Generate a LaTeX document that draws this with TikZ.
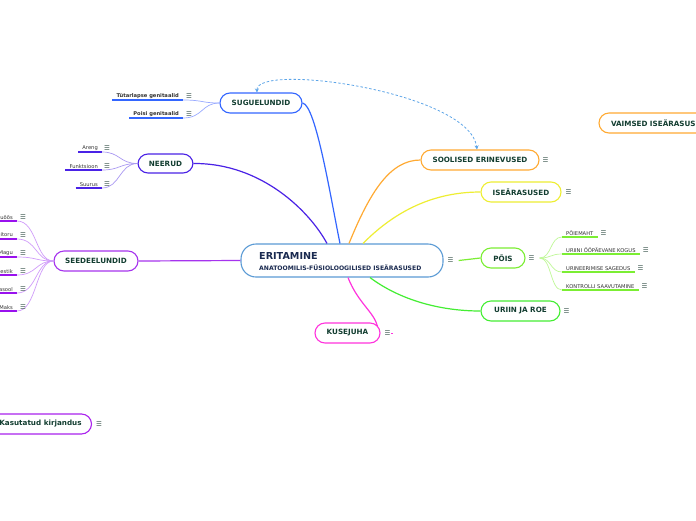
\documentclass[tikz,border=0pt]{standalone}
\usepackage{fontspec}
\setmainfont{DejaVu Sans}
\usetikzlibrary{arrows.meta}
\definecolor{txtgreen}{HTML}{123D30}
\definecolor{txtnavy}{HTML}{1A2A50}
\definecolor{itemgray}{HTML}{333333}
\definecolor{icongray}{HTML}{3F5A52}
\definecolor{cerit}{HTML}{5B9BD5}
\definecolor{csug}{HTML}{3366FF}
\definecolor{csugl}{HTML}{99AAFF}
\definecolor{cneer}{HTML}{4A22E6}
\definecolor{cneerl}{HTML}{AA99F2}
\definecolor{cseed}{HTML}{A633EE}
\definecolor{cseedu}{HTML}{9911EE}
\definecolor{cseedl}{HTML}{D09CFA}
\definecolor{csool}{HTML}{FFAA33}
\definecolor{cyel}{HTML}{EEEE33}
\definecolor{cpois}{HTML}{7BEE33}
\definecolor{cpoisl}{HTML}{C0F898}
\definecolor{curi}{HTML}{44EE33}
\definecolor{ckuse}{HTML}{FF33DD}
\definecolor{ckirj}{HTML}{AA22EE}
\definecolor{crel}{HTML}{5DA5E8}
\tikzset{
  topic/.style={draw, line width=1.1pt, rounded corners=10pt, fill=white,
    minimum height=20pt, inner sep=0pt, text=txtgreen,
    font=\fontsize{7.2}{8}\selectfont\bfseries},
  item/.style={inner xsep=4pt, inner ysep=1.6pt, anchor=south east,
    text=itemgray, font=\fontsize{5.2}{6}\selectfont},
  bitem/.style={item, font=\fontsize{5.2}{6}\selectfont\bfseries},
  icon/.style={inner sep=0pt, text=icongray, font=\fontsize{6.5}{7}\selectfont},
  centtext/.style={inner sep=0pt, anchor=west, text=txtnavy},
  ul/.style={line width=1.7pt},
  twig/.style={line width=0.7pt},
  mainline/.style={line width=1.2pt},
}
\begin{document}
\begin{tikzpicture}[x=1pt,y=-1pt]
\clip (0,0) rectangle (696,520);
\fill[white] (0,0) rectangle (696,520);

% ---------- topics ----------
\node[topic, draw=cerit, rounded corners=15pt, minimum width=202pt, minimum height=33pt] (erit) at (342,260.5) {};
\node[centtext, font=\fontsize{9.6}{10}\selectfont\bfseries] (erit1) at (259,256) {ERITAMINE};
\node[centtext, font=\fontsize{6.1}{7}\selectfont\bfseries] (erit2) at (259,268) {ANATOOMILIS-FÜSIOLOOGILISED ISEÄRASUSED};
\node[topic, draw=csug, minimum width=82pt] (sug) at (261,103) {SUGUELUNDID};
\node[topic, draw=cneer, minimum width=55pt, minimum height=19pt] (neer) at (165.5,163.5) {NEERUD};
\node[topic, draw=cseed, minimum width=84pt] (seed) at (96,261) {SEEDEELUNDID};
\node[topic, draw=csool, minimum width=118pt] (sool) at (480,160) {SOOLISED ERINEVUSED};
\node[topic, draw=cyel, minimum width=80pt] (ise) at (521,192) {ISEÄRASUSED};
\node[topic, draw=cpois, minimum width=44pt] (pois) at (503,258) {PÕIS};
\node[topic, draw=curi, minimum width=79pt] (uri) at (520.5,311) {URIIN JA ROE};
\node[topic, draw=ckuse, minimum width=65pt] (kuse) at (347.5,333) {KUSEJUHA};
\node[topic, draw=ckirj, minimum width=102pt] (kirj) at (40.5,424) {Kasutatud kirjandus};
\node[topic, draw=csool, minimum width=124pt, text width=100pt, align=left] (vaim) at (661,123) {VAIMSED ISEÄRASUSED};

% ---------- icons on topics ----------
\node[icon] (eriti) at ([xshift=7pt]erit.east) {☰};
\node[icon] (sooli) at ([xshift=6pt]sool.east) {☰};
\node[icon] (isei) at ([xshift=7pt]ise.east) {☰};
\node[icon] (poisi) at ([xshift=6pt]pois.east) {☰};
\node[icon] (urii) at ([xshift=6pt]uri.east) {☰};
\node[icon] (kusei) at ([xshift=7pt]kuse.east) {☰};
\node[icon] (kirji) at ([xshift=7pt]kirj.east) {☰};
\coordinate (kuseend) at ([xshift=12pt]kuse.east);
\draw[ckuse, line width=0.6pt] ([xshift=10.5pt]kuse.east) -- (kuseend);

% ---------- main connectors ----------
\draw[mainline, csug] (sug.east) .. controls (316,105) and (331,200) .. ([xshift=-2pt]erit.north);
\draw[mainline, cneer] (neer.east) .. controls (262,163) and (310,212) .. ([xshift=-15pt]erit.north);
\draw[mainline, cseed] (erit.west) -- (seed.east);
\draw[mainline, csool] ([xshift=7pt]erit.north) .. controls (370,192) and (390,160) .. (sool.west);
\draw[mainline, cyel] ([xshift=21pt]erit.north) .. controls (400,206) and (440,192) .. (ise.west);
\draw[mainline, cpois] ([xshift=5pt]eriti.east) -- (pois.west);
\draw[mainline, curi] ([xshift=28pt]erit.south) .. controls (400,300) and (440,311) .. (uri.west);
\draw[mainline, ckuse] ([xshift=6pt]erit.south) .. controls (358,303) and (374,312) .. ([xshift=-3pt,yshift=-4pt]kuse.north east);

% ---------- relation ----------
\draw[crel, line width=0.8pt, dash pattern=on 2.5pt off 2pt,
  {Stealth[length=4pt,width=4pt]}-{Stealth[length=4pt,width=4pt]}]
  ([xshift=-4pt]sug.north) .. controls (256,62) and (470,92) .. ([xshift=-3pt]sool.north);

% ---------- SUGUELUNDID items ----------
\node[bitem] (s1) at (183,100) {Tütarlapse genitaalid};
\node[bitem] (s2) at (183,118) {Poisi genitaalid};
\foreach \n in {s1,s2}{
  \draw[ul, csug] (\n.south west) -- (\n.south east);
  \draw[twig, csugl] (\n.south east) .. controls +(20,0) and +(-18,0) .. (sug.west);
  \node[icon] (\n i) at ([xshift=6pt]\n.east) {☰};
}

% ---------- NEERUD items ----------
\node[item] (n1) at (102,152) {Areng};
\node[item] (n2) at (102,170) {Funktsioon};
\node[item] (n3) at (102,188) {Suurus};
\foreach \n in {n1,n2,n3}{
  \draw[ul, cneer] (\n.south west) -- (\n.south east);
  \draw[twig, cneerl] (\n.south east) .. controls +(18,0) and +(-18,0) .. (neer.west);
  \node[icon] (\n i) at ([xshift=5pt]\n.east) {☰};
}

% ---------- SEEDEELUNDID items ----------
\node[item] (d1) at (17,221) {Suuõõs};
\node[item] (d2) at (17,239) {Söögitoru};
\node[item] (d3) at (17,257) {Magu};
\node[item] (d4) at (17,275) {Soolestik};
\node[item] (d5) at (17,293) {Pärasool};
\node[item] (d6) at (17,311) {Maks};
\foreach \n in {d1,d2,d3,d4,d5,d6}{
  \draw[ul, cseedu] (\n.south west) -- (\n.south east);
  \draw[twig, cseedl] (\n.south east) .. controls +(20,0) and +(-18,0) .. (seed.west);
  \node[icon] (\n i) at ([xshift=6pt]\n.east) {☰};
}

% ---------- PÕIS items ----------
\coordinate (poisout) at ([xshift=5pt]poisi.east);
\node[item, anchor=south west] (p1) at (562,237) {PÕIEMAHT};
\node[item, anchor=south west] (p2) at (562,254) {URIINI ÖÖPÄEVANE KOGUS};
\node[item, anchor=south west] (p3) at (562,272) {URINEERIMISE SAGEDUS};
\node[item, anchor=south west] (p4) at (562,290) {KONTROLLI SAAVUTAMINE};
\foreach \n in {p1,p2,p3,p4}{
  \draw[ul, cpois] (\n.south west) -- (\n.south east);
  \draw[twig, cpoisl] (poisout) .. controls +(12,0) and +(-12,0) .. (\n.south west);
  \node[icon] (\n i) at ([xshift=6pt]\n.east) {☰};
}
\end{tikzpicture}
\end{document}
